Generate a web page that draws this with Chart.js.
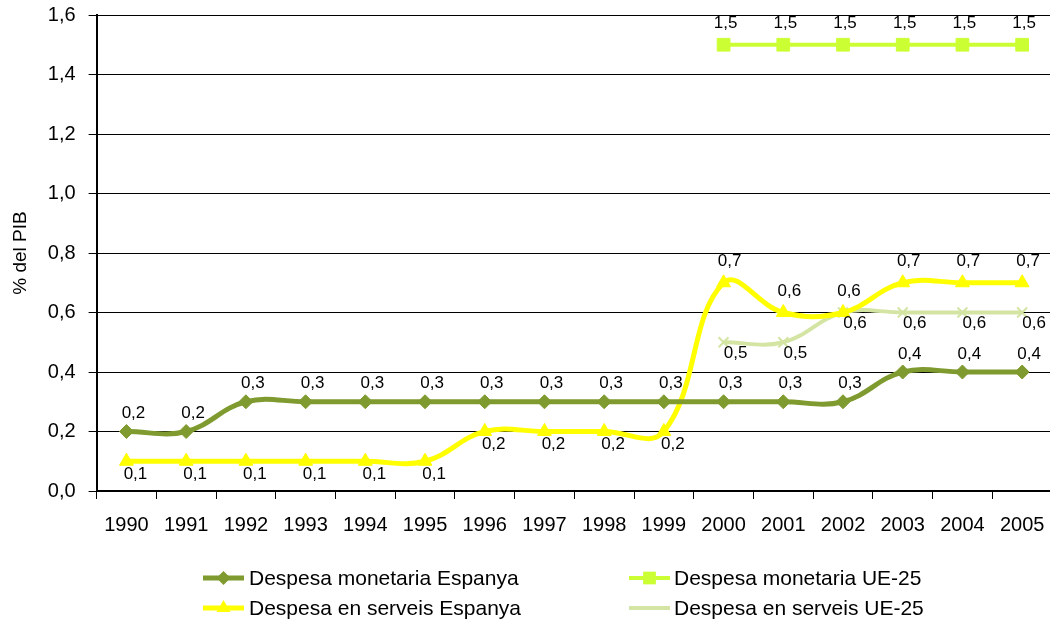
<!DOCTYPE html>
<html lang="ca">
<head>
    <meta charset="UTF-8">
    <title>Despesa en família</title>
    <script src="https://cdn.jsdelivr.net/npm/chart.js"></script>
    <style>
        body {
            margin: 0;
            background: #ffffff;
            overflow: hidden;
            font-family: "Liberation Sans", Arial, sans-serif;
        }

        #wrap {
            position: relative;
            width: 1062px;
            height: 632px;
            margin-top: -10px;
        }
    </style>
</head>
<body>
    <div id="wrap">
        <canvas id="chart"></canvas>
    </div>

    <script>
        // years on the x axis
        const years = ['1990', '1991', '1992', '1993', '1994', '1995', '1996', '1997',
                       '1998', '1999', '2000', '2001', '2002', '2003', '2004', '2005'];

        // % del PIB
        const monetariaEspanya = [0.2, 0.2, 0.3, 0.3, 0.3, 0.3, 0.3, 0.3, 0.3, 0.3, 0.3, 0.3, 0.3, 0.4, 0.4, 0.4];
        const monetariaUE = [null, null, null, null, null, null, null, null, null, null, 1.5, 1.5, 1.5, 1.5, 1.5, 1.5];
        const serveisEspanya = [0.1, 0.1, 0.1, 0.1, 0.1, 0.1, 0.2, 0.2, 0.2, 0.2, 0.7, 0.6, 0.6, 0.7, 0.7, 0.7];
        const serveisUE = [null, null, null, null, null, null, null, null, null, null, 0.5, 0.5, 0.6, 0.6, 0.6, 0.6];

        const seriesNames = ['Despesa monetaria Espanya', 'Despesa monetaria UE-25',
                             'Despesa en serveis Espanya', 'Despesa en serveis UE-25'];

        const FONT = '"Liberation Sans", Arial, sans-serif';
        const fmt = v => v.toFixed(1).replace('.', ',');

        // label offsets (dx, dy) from the point, per series
        const labelOffsets = [
            v => [7, -18],
            v => [2, -21],
            v => (v <= 0.2 ? [9, 13] : [6, -21]),
            v => [12, 11]
        ];

        // draw the value next to each point
        const valueLabels = {
            id: 'valueLabels',
            afterDatasetsDraw(chart) {
                const ctx = chart.ctx;
                ctx.save();
                ctx.font = '17px ' + FONT;
                ctx.fillStyle = '#000';
                ctx.textAlign = 'center';
                ctx.textBaseline = 'middle';
                chart.data.datasets.forEach((ds, i) => {
                    const meta = chart.getDatasetMeta(i);
                    meta.data.forEach((pt, j) => {
                        const v = ds.data[j];
                        if (v === null) return;
                        const [dx, dy] = labelOffsets[i](v);
                        ctx.fillText(fmt(v), pt.x + dx, pt.y + dy);
                    });
                });
                ctx.restore();
            }
        };

        // two-column legend under the plot (canvas is shifted up 10px)
        const legendGrid = {
            id: 'legendGrid',
            afterDraw(chart) {
                const ctx = chart.ctx;
                const spots = [[203, 588], [629, 588], [203, 618], [629, 618]];
                ctx.save();
                chart.data.datasets.forEach((ds, i) => {
                    const [x, y] = spots[i];
                    ctx.strokeStyle = ds.borderColor;
                    ctx.lineWidth = ds.borderWidth;
                    ctx.beginPath();
                    ctx.moveTo(x, y);
                    ctx.lineTo(x + 41, y);
                    ctx.stroke();
                    ctx.fillStyle = ds.pointBackgroundColor;
                    ctx.strokeStyle = ds.pointBorderColor === '#D3E4A3' ? '#B9D08A' : ds.pointBorderColor;
                    ctx.lineWidth = ds.pointBorderWidth;
                    Chart.helpers.drawPoint(ctx, {
                        pointStyle: ds.pointStyle,
                        radius: ds.pointRadius,
                        rotation: 0
                    }, x + 20.5, y);
                    ctx.fillStyle = '#000';
                    ctx.font = '21px ' + FONT;
                    ctx.textAlign = 'left';
                    ctx.textBaseline = 'middle';
                    ctx.fillText(ds.label, x + (i % 2 === 0 ? 46 : 45), y + 1);
                });
                ctx.restore();
            }
        };

        function line(label, data, color, style, radius, extra) {
            return Object.assign({
                label: label,
                data: data,
                borderColor: color,
                backgroundColor: color,
                borderWidth: 5,
                pointStyle: style,
                pointRadius: radius,
                pointBackgroundColor: color,
                pointBorderColor: color,
                pointBorderWidth: 1,
                tension: 0.4,
                spanGaps: false
            }, extra || {});
        }

        const ctx = document.getElementById('chart').getContext('2d');
        new Chart(ctx, {
            type: 'line',
            data: {
                labels: years,
                datasets: [
                    line(seriesNames[0], monetariaEspanya, '#7F9A2F', 'rectRot', 7),
                    line(seriesNames[1], monetariaUE, '#CCFF33', 'rect', 9, { borderWidth: 4 }),
                    line(seriesNames[2], serveisEspanya, '#FFFF00', 'triangle', 8),
                    line(seriesNames[3], serveisUE, '#D3E4A3', 'crossRot', 7, { borderWidth: 4, pointBorderWidth: 2 })
                ]
            },
            options: {
                responsive: true,
                maintainAspectRatio: false,
                animation: false,
                layout: {
                    padding: { left: 5, right: 6, top: 0, bottom: 71 }
                },
                plugins: {
                    legend: { display: false },
                    tooltip: { enabled: false }
                },
                scales: {
                    x: {
                        offset: true,
                        grid: {
                            offset: true,
                            drawOnChartArea: false,
                            drawTicks: true,
                            tickLength: 8,
                            color: '#000',
                            lineWidth: 1
                        },
                        border: { color: '#000', width: 2 },
                        ticks: {
                            color: '#000',
                            padding: 14,
                            maxRotation: 0,
                            autoSkip: false,
                            font: { family: FONT, size: 20 }
                        }
                    },
                    y: {
                        min: 0,
                        max: 1.6,
                        grid: {
                            color: '#000',
                            lineWidth: 1,
                            tickLength: 8
                        },
                        border: { color: '#000', width: 2 },
                        ticks: {
                            stepSize: 0.2,
                            color: '#000',
                            padding: 13,
                            font: { family: FONT, size: 20 },
                            callback: v => fmt(v)
                        },
                        title: {
                            display: true,
                            text: '% del PIB',
                            color: '#000',
                            padding: { top: 4, bottom: 3 },
                            font: { family: FONT, size: 19 }
                        }
                    }
                }
            },
            plugins: [valueLabels, legendGrid]
        });
    </script>
</body>
</html>
